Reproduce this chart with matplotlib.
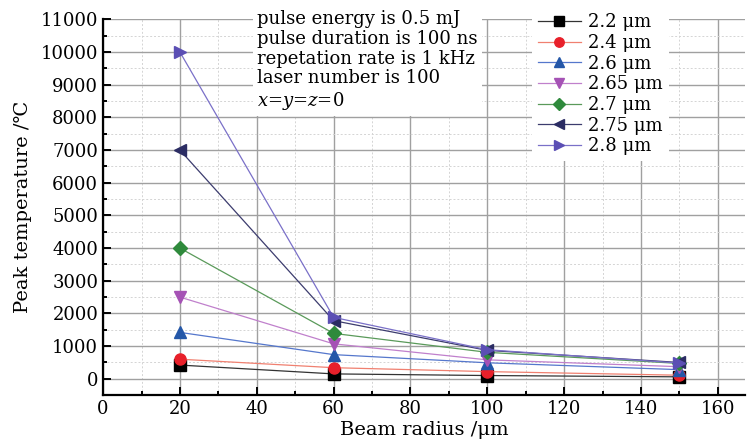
import matplotlib
matplotlib.use("Agg")
import matplotlib.pyplot as plt
from matplotlib.ticker import MultipleLocator

plt.rcParams["font.family"] = ["DejaVu Serif", "DejaVu Sans"]
plt.rcParams["mathtext.fontset"] = "dejavuserif"

# beam radius (um)
radius = [20, 60, 100, 150]

# peak temperature (degC) for each wavelength
t_22 = [420, 150, 100, 60]
t_24 = [600, 340, 220, 110]
t_26 = [1420, 740, 490, 280]
t_265 = [2500, 1070, 580, 370]
t_27 = [4000, 1390, 810, 470]
t_275 = [7000, 1780, 870, 500]
t_28 = [10000, 1880, 890, 480]

labels = ["2.2 μm", "2.4 μm", "2.6 μm", "2.65 μm", "2.7 μm", "2.75 μm", "2.8 μm"]
series = [t_22, t_24, t_26, t_265, t_27, t_275, t_28]

markers = ["s", "o", "^", "v", "D", "<", ">"]
marker_colors = ["#000000", "#e8202a", "#2457a8", "#a552b5", "#2f8a3c", "#2b2c63", "#5b4fb4"]
line_colors = ["#333333", "#f08070", "#5577cc", "#c080cc", "#5a9a5a", "#3c3c6e", "#7a70c8"]

fig = plt.figure(figsize=(7.47, 4.41), dpi=100)
ax = fig.add_axes([0.138, 0.104, 0.859, 0.852])

for vals, lab, m, mc, lc in zip(series, labels, markers, marker_colors, line_colors):
    ms = 8 if m != "D" else 7
    ax.plot(radius, vals, color=lc, lw=0.9, marker=m, markersize=ms,
            markerfacecolor=mc, markeredgecolor=mc, label=lab, zorder=3)

ax.set_xlim(0, 167)
ax.set_ylim(-500, 11000)
ax.xaxis.set_major_locator(MultipleLocator(20))
ax.xaxis.set_minor_locator(MultipleLocator(10))
ax.yaxis.set_major_locator(MultipleLocator(1000))
ax.yaxis.set_minor_locator(MultipleLocator(500))

ax.grid(True, which="major", color="#a0a0a0", lw=1.0)
ax.grid(True, which="minor", color="#d4d4d4", lw=0.7, ls=(0, (2, 2)))
ax.set_axisbelow(True)

for side in ["top", "right"]:
    ax.spines[side].set_visible(False)
for side in ["left", "bottom"]:
    ax.spines[side].set_linewidth(1.6)

ax.tick_params(which="both", direction="in", labelsize=13, width=1.4)
ax.tick_params(which="major", length=6)
ax.tick_params(which="minor", length=3)

ax.set_xlabel("Beam radius /μm", fontsize=14, labelpad=2)
ax.set_ylabel("Peak temperature /℃", fontsize=14, labelpad=6)

info = ("pulse energy is 0.5 mJ\n"
        "pulse duration is 100 ns\n"
        "repetation rate is 1 kHz\n"
        "laser number is 100\n"
        "$x$=$y$=$z$=0")
ax.text(0.24, 1.025, info, transform=ax.transAxes, fontsize=13, va="top", ha="left",
        linespacing=1.13, zorder=4,
        bbox=dict(facecolor="white", edgecolor="none", pad=3))

leg = ax.legend(loc="upper left", bbox_to_anchor=(0.655, 1.055), fontsize=13,
                frameon=True, edgecolor="none", facecolor="white", framealpha=1,
                handlelength=2.4, handletextpad=0.4, labelspacing=0.15,
                borderpad=0.3, fancybox=False, markerscale=0.85)

fig.savefig("out.png", dpi=100)
